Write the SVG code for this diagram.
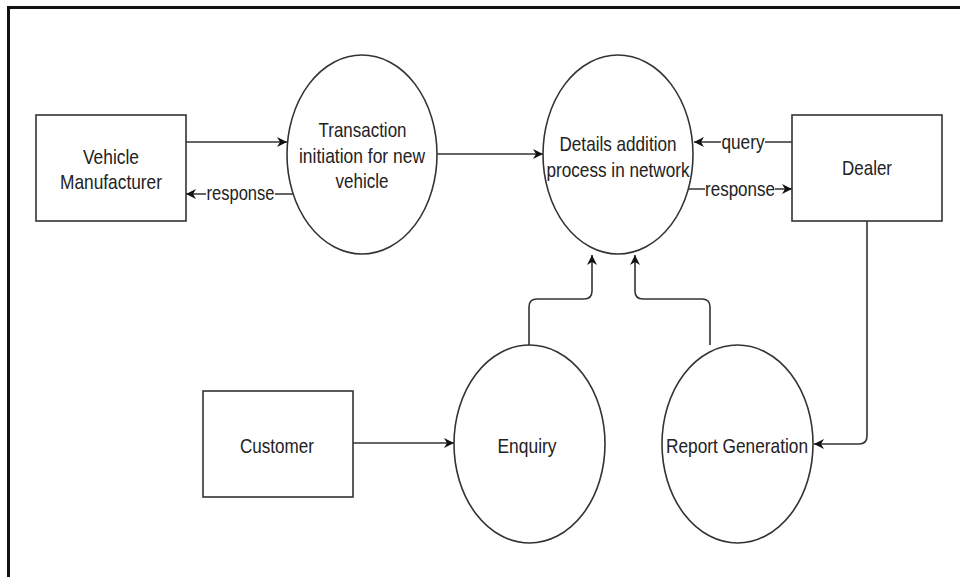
<svg xmlns="http://www.w3.org/2000/svg" width="960" height="577" viewBox="0 0 960 577">
<defs>
<marker id="arr" markerUnits="userSpaceOnUse" markerWidth="12" markerHeight="12" refX="10" refY="6" orient="auto" viewBox="0 0 12 12">
<path d="M0,1 L10,6 L0,11 L3,6 Z" fill="#111"/>
</marker>
<style>
.shape{fill:#fff;stroke:#333;stroke-width:1.6}
.edge{fill:none;stroke:#333;stroke-width:1.6;marker-end:url(#arr)}
.t{font-family:"Liberation Sans",Arial,sans-serif;font-size:21px;fill:#222;text-anchor:middle}
.lbl{font-family:"Liberation Sans",Arial,sans-serif;font-size:20px;fill:#222;text-anchor:middle}
.bg{fill:#fff}
</style>
</defs>
<rect width="960" height="577" fill="#fff"/>
<path d="M8.5,577 V7.5 H960" fill="none" stroke="#111" stroke-width="3"/>

<g id="connectors">
<path class="edge" d="M186,142 H287"/>
<path class="edge" d="M293,194 H186"/>
<path class="edge" d="M437,154 H543"/>
<path class="edge" d="M792,142 H694"/>
<path class="edge" d="M689,189 H792"/>
<path class="edge" d="M353,443 H454"/>
<path class="edge" d="M529,345 V307 Q529,299 537,299 H584 Q592,299 592,291 V255"/>
<path class="edge" d="M710,345 V307 Q710,299 702,299 H643 Q635,299 635,291 V255"/>
<path class="edge" d="M867,221 V436 Q867,444 859,444 H814"/>
<rect class="bg" x="206" y="184" width="69" height="20"/>
<text class="lbl" x="240.5" y="200" textLength="68" lengthAdjust="spacingAndGlyphs">response</text>
<rect class="bg" x="721" y="132" width="44" height="20"/>
<text class="lbl" x="743" y="149" textLength="43" lengthAdjust="spacingAndGlyphs">query</text>
<rect class="bg" x="705" y="179" width="70" height="20"/>
<text class="lbl" x="740" y="196" textLength="70" lengthAdjust="spacingAndGlyphs">response</text>
</g>

<g id="vehicle-manufacturer">
<rect class="shape" x="36" y="115" width="150" height="106"/>
<text class="t" x="111" y="164" textLength="56" lengthAdjust="spacingAndGlyphs">Vehicle</text>
<text class="t" x="111" y="189" textLength="102" lengthAdjust="spacingAndGlyphs">Manufacturer</text>
</g>

<g id="transaction-initiation">
<ellipse class="shape" cx="362" cy="154.5" rx="75" ry="99.5"/>
<text class="t" x="362.5" y="137" textLength="88" lengthAdjust="spacingAndGlyphs">Transaction</text>
<text class="t" x="362" y="163" textLength="126" lengthAdjust="spacingAndGlyphs">initiation for new</text>
<text class="t" x="362" y="188" textLength="53" lengthAdjust="spacingAndGlyphs">vehicle</text>
</g>

<g id="details-addition">
<ellipse class="shape" cx="618" cy="154.5" rx="75" ry="99.5"/>
<text class="t" x="618" y="151" textLength="117" lengthAdjust="spacingAndGlyphs">Details addition</text>
<text class="t" x="618" y="177" textLength="143" lengthAdjust="spacingAndGlyphs">process in network</text>
</g>

<g id="dealer">
<rect class="shape" x="792" y="115" width="150" height="106"/>
<text class="t" x="867" y="175" textLength="50" lengthAdjust="spacingAndGlyphs">Dealer</text>
</g>

<g id="customer">
<rect class="shape" x="203" y="391" width="150" height="106"/>
<text class="t" x="277" y="453" textLength="74" lengthAdjust="spacingAndGlyphs">Customer</text>
</g>

<g id="enquiry">
<ellipse class="shape" cx="529.5" cy="444" rx="75.5" ry="99"/>
<text class="t" x="527" y="453" textLength="59" lengthAdjust="spacingAndGlyphs">Enquiry</text>
</g>

<g id="report-generation">
<ellipse class="shape" cx="737.5" cy="444" rx="75.5" ry="99"/>
<text class="t" x="737" y="453" textLength="142" lengthAdjust="spacingAndGlyphs">Report Generation</text>
</g>
</svg>
